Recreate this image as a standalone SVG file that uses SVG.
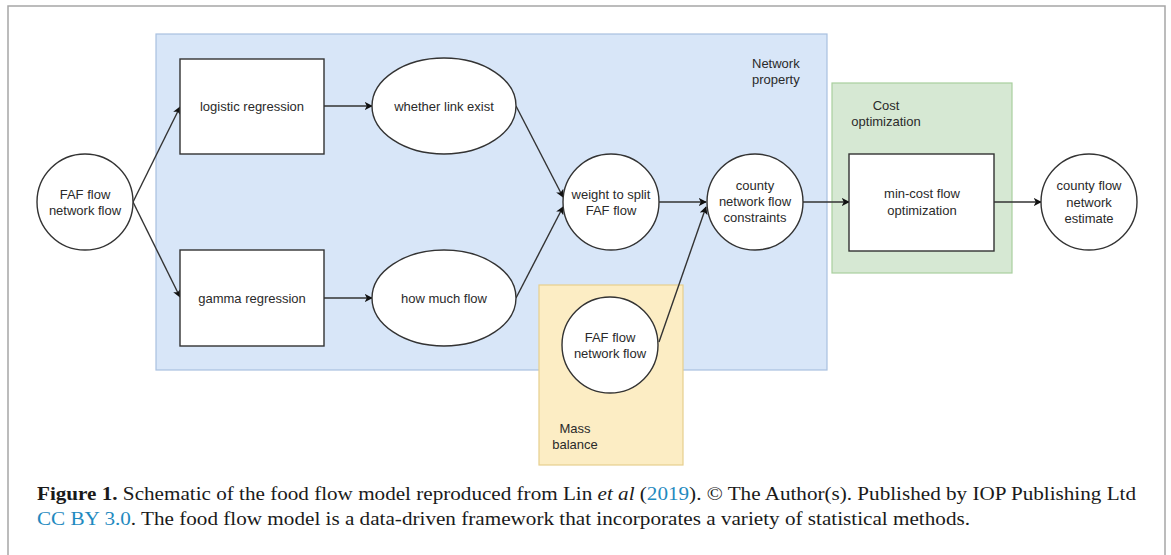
<svg xmlns="http://www.w3.org/2000/svg" width="1171" height="555" viewBox="0 0 1171 555">
<defs>
<style>
.n{fill:#fff;stroke:#333;stroke-width:1.4}
.t{font-family:"Liberation Sans",Arial,sans-serif;font-size:13px;fill:#2a2a2a;text-anchor:middle}
.lbl{font-family:"Liberation Sans",Arial,sans-serif;font-size:13px;fill:#2a2a2a}
.e{fill:none;stroke:#333;stroke-width:1.4;marker-end:url(#ah)}
.cap{font-family:"Liberation Serif","Times New Roman",serif;font-size:19px;fill:#1a1a1a}
.lnk{fill:#1f8ac0}
</style>
<marker id="ah" viewBox="0 0 10 10" refX="9" refY="5" markerWidth="8" markerHeight="8" markerUnits="userSpaceOnUse" orient="auto">
<path d="M0,0 L10,5 L0,10 L2.5,5 Z" fill="#111"/>
</marker>
</defs>
<rect x="0" y="0" width="1171" height="555" fill="#fff"/>
<rect x="8" y="6" width="1157" height="560" fill="none" stroke="#a6a6a6" stroke-width="1.5"/>

<g id="group-network">
<rect x="156" y="34" width="671" height="336" fill="#d8e6f8" stroke="#a9c0df" stroke-width="1.2"/>
<text class="lbl" x="752" y="68">Network</text>
<text class="lbl" x="752" y="84">property</text>
</g>
<g id="group-mass">
<rect x="539" y="285" width="144" height="180" fill="#fcedc4" stroke="#e6cf8e" stroke-width="1.2"/>
<text class="t" x="575" y="433">Mass</text>
<text class="t" x="575" y="449">balance</text>
</g>
<g id="group-cost">
<rect x="832" y="83" width="180" height="190" fill="#d6e8d3" stroke="#a8cf9e" stroke-width="1.2"/>
<text class="t" x="886" y="110">Cost</text>
<text class="t" x="886" y="126">optimization</text>
</g>

<g id="connectors">
<path class="e" d="M133,202 L180,107"/>
<path class="e" d="M133,202 L180,297"/>
<path class="e" d="M324,106 L372,106"/>
<path class="e" d="M324,298 L372,298"/>
<path class="e" d="M516,106 L563,197"/>
<path class="e" d="M516,298 L563,207"/>
<path class="e" d="M659,202 L706,202"/>
<path class="e" d="M659,342 L706,207"/>
<path class="e" d="M803,202 L849,202"/>
<path class="e" d="M994,202 L1041,202"/>
</g>

<g id="faf-in">
<circle class="n" cx="85" cy="202" r="48"/>
<text class="t" x="85" y="199">FAF flow</text>
<text class="t" x="85" y="215">network flow</text>
</g>
<g id="logistic">
<rect class="n" x="180" y="59" width="144" height="95"/>
<text class="t" x="252" y="111">logistic regression</text>
</g>
<g id="gamma">
<rect class="n" x="180" y="250" width="144" height="96"/>
<text class="t" x="252" y="303">gamma regression</text>
</g>
<g id="whether">
<ellipse class="n" cx="444" cy="106" rx="72" ry="48"/>
<text class="t" x="444" y="111">whether link exist</text>
</g>
<g id="howmuch">
<ellipse class="n" cx="444" cy="298" rx="72" ry="48"/>
<text class="t" x="444" y="303">how much flow</text>
</g>
<g id="weight">
<circle class="n" cx="611" cy="202" r="48"/>
<text class="t" x="611" y="199">weight to split</text>
<text class="t" x="611" y="215">FAF flow</text>
</g>
<g id="county">
<circle class="n" cx="755" cy="202" r="48"/>
<text class="t" x="755" y="190">county</text>
<text class="t" x="755" y="206">network flow</text>
<text class="t" x="755" y="222">constraints</text>
</g>
<g id="faf-mass">
<circle class="n" cx="610" cy="345" r="48"/>
<text class="t" x="610" y="342">FAF flow</text>
<text class="t" x="610" y="358">network flow</text>
</g>
<g id="mincost">
<rect class="n" x="849" y="154" width="145" height="97"/>
<text class="t" x="922" y="198">min-cost flow</text>
<text class="t" x="922" y="215">optimization</text>
</g>
<g id="estimate">
<circle class="n" cx="1089" cy="202" r="48"/>
<text class="t" x="1089" y="190">county flow</text>
<text class="t" x="1089" y="207">network</text>
<text class="t" x="1089" y="223">estimate</text>
</g>

<g id="caption">
<text class="cap" x="37" y="500" textLength="1099" lengthAdjust="spacingAndGlyphs"><tspan font-weight="bold">Figure 1.</tspan> Schematic of the food flow model reproduced from Lin <tspan font-style="italic">et al</tspan> (<tspan class="lnk">2019</tspan>). © The Author(s). Published by IOP Publishing Ltd</text>
<text class="cap" x="37" y="525" textLength="933" lengthAdjust="spacingAndGlyphs"><tspan class="lnk">CC BY 3.0</tspan>. The food flow model is a data-driven framework that incorporates a variety of statistical methods.</text>
</g>
</svg>
